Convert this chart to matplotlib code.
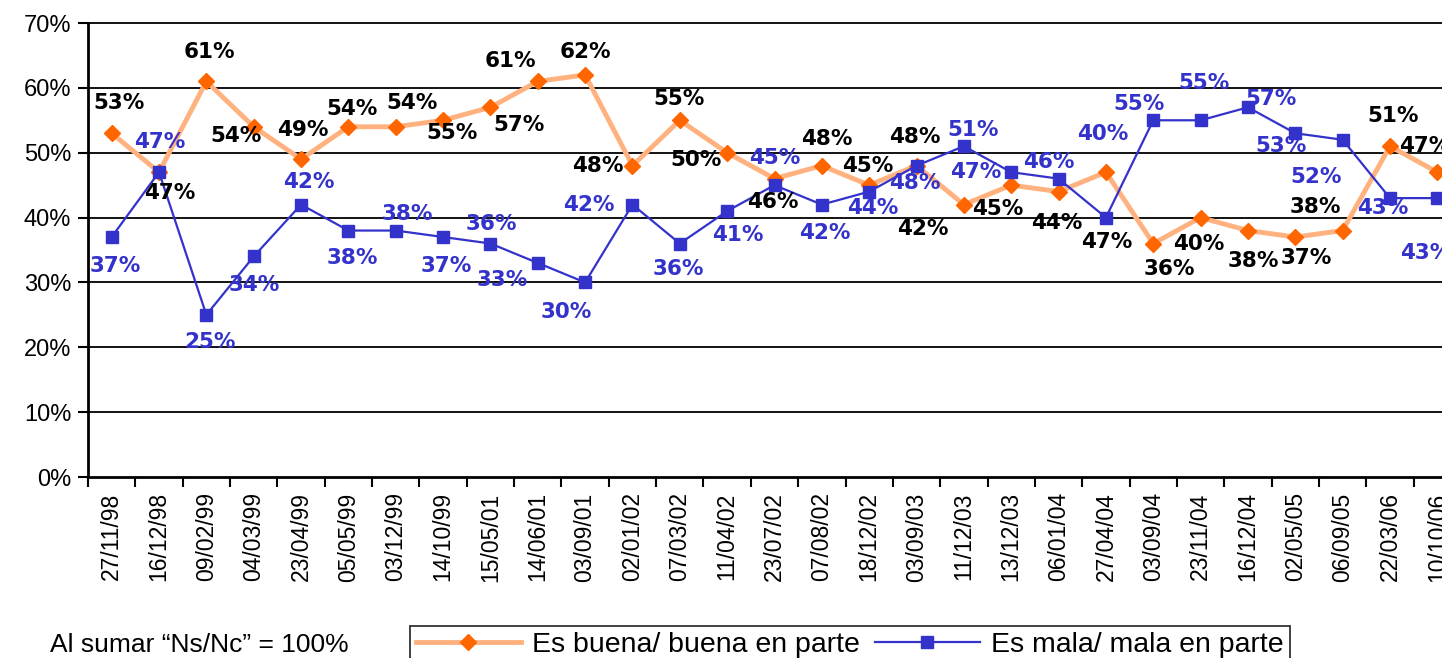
import matplotlib
matplotlib.use("Agg")
import matplotlib.pyplot as plt
from matplotlib.lines import Line2D

dates = ["27/11/98", "16/12/98", "09/02/99", "04/03/99", "23/04/99", "05/05/99",
         "03/12/99", "14/10/99", "15/05/01", "14/06/01", "03/09/01", "02/01/02",
         "07/03/02", "11/04/02", "23/07/02", "07/08/02", "18/12/02", "03/09/03",
         "11/12/03", "13/12/03", "06/01/04", "27/04/04", "03/09/04", "23/11/04",
         "16/12/04", "02/05/05", "06/09/05", "22/03/06", "10/10/06"]
buena = [53, 47, 61, 54, 49, 54, 54, 55, 57, 61, 62, 48, 55, 50, 46, 48, 45, 48,
         42, 45, 44, 47, 36, 40, 38, 37, 38, 51, 47]
mala = [37, 47, 25, 34, 42, 38, 38, 37, 36, 33, 30, 42, 36, 41, 45, 42, 44, 48,
        51, 47, 46, 40, 55, 55, 57, 53, 52, 43, 43]

# label offsets in pixels (dx right, dy down in image terms)
buena_off = [(7, -30), (11, 21), (3, -29), (-18, 9), (2, -29), (4, -18), (16, -24),
             (9, 13), (29, 18), (-27, -20), (0, -23), (-35, 0), (-1, -21), (-31, 7),
             (-2, 23), (5, -27), (-2, -19), (-2, -29), (-41, 24), (-14, 24), (-2, 31),
             (1, 70), (16, 25), (-2, 26), (5, 30), (11, 21), (-27, -24), (3, -30),
             (-13, -26)]
mala_off = [(4, 29), (1, -30), (4, 27), (1, 29), (8, -23), (4, 27), (12, -17),
            (3, 29), (1, -20), (-36, 17), (-19, 30), (-44, 0), (-1, 25), (11, 24),
            (0, -27), (3, 28), (3, 16), (-2, 17), (9, -16), (-36, 0), (-10, -17),
            (-3, -84), (-14, -16), (3, -37), (23, -8), (-14, 13), (-27, 37),
            (-7, 10), (-12, 55)]

ORANGE_LINE = "#FFB27F"
ORANGE_MK = "#FF6600"
BLUE = "#3333CC"

plt.rcParams['font.family'] = ['Liberation Sans', 'DejaVu Sans']

W, H = 1442, 658
fig = plt.figure(figsize=(W / 100, H / 100), dpi=100)
ax = fig.add_axes([88 / W, (H - 477) / H, 1373 / W, 454 / H])

x = list(range(len(dates)))
ax.plot(x, buena, color=ORANGE_LINE, lw=3.5, marker="D", ms=8,
        mfc=ORANGE_MK, mec=ORANGE_MK, zorder=4, clip_on=False)
ax.plot(x, mala, color=BLUE, lw=1.6, marker="s", ms=8,
        mfc=BLUE, mec=BLUE, zorder=5, clip_on=False)

for i, v in enumerate(buena):
    dx, dy = buena_off[i]
    ax.annotate(f"{v}%", (i, v), xytext=(dx, -dy), textcoords="offset pixels",
                ha="center", va="center", fontsize=15.5, fontweight="bold",
                family="DejaVu Sans", color="black", zorder=6, annotation_clip=False)
for i, v in enumerate(mala):
    dx, dy = mala_off[i]
    ax.annotate(f"{v}%", (i, v), xytext=(dx, -dy), textcoords="offset pixels",
                ha="center", va="center", fontsize=15.5, fontweight="bold",
                family="DejaVu Sans", color=BLUE, zorder=6, annotation_clip=False)

for g in range(10, 80, 10):
    ax.axhline(g, color="black", lw=1.3, zorder=1, clip_on=False)

ax.set_xlim(-0.5, len(dates) - 0.5)
ax.set_ylim(0, 70)
ax.set_yticks(range(0, 80, 10))
ax.set_yticklabels([f"{t}%" for t in range(0, 80, 10)], fontsize=17)
ax.set_xticks(x)
ax.set_xticklabels(dates, rotation=90, fontsize=16.5)
ax.set_xticks([i + 0.5 for i in range(-1, len(dates))], minor=True)
ax.tick_params(axis="x", which="major", length=0, pad=11)
ax.tick_params(axis="x", which="minor", length=7, width=1.5, direction="out")
ax.tick_params(axis="y", length=7, width=1.5, direction="out", pad=5)
for s in ["top", "right"]:
    ax.spines[s].set_visible(False)
ax.spines["left"].set_linewidth(2)
ax.spines["bottom"].set_linewidth(2)

fig.text(50 / W, (H - 645) / H, "Al sumar \u201cNs/Nc\u201d = 100%", fontsize=19,
         ha="left", va="center")

handles = [Line2D([], [], color=ORANGE_LINE, lw=3.5, marker="D", ms=8,
                  mfc=ORANGE_MK, mec=ORANGE_MK),
           Line2D([], [], color=BLUE, lw=1.6, marker="s", ms=8, mfc=BLUE, mec=BLUE)]
leg = fig.legend(handles, ["Es buena/ buena en parte", "Es mala/ mala en parte"],
                 loc="upper left", bbox_to_anchor=(410 / W, (H - 626) / H),
                 ncol=2, fontsize=20.5, frameon=True, fancybox=False,
                 edgecolor="black", handlelength=3.7, handletextpad=0.4,
                 columnspacing=0.5, borderpad=0.2, borderaxespad=0)
leg.get_frame().set_linewidth(1.3)

fig.savefig("out.png", dpi=100)
